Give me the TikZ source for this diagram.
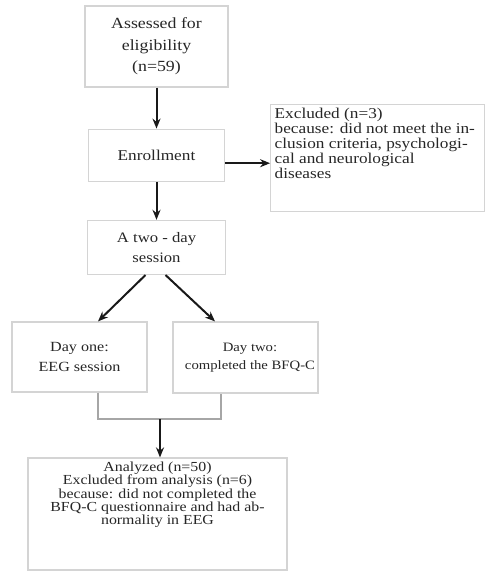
\documentclass[tikz,border=0pt]{standalone}
\usepackage{fontspec}
\setmainfont[FakeStretch=1.15]{Liberation Serif}
\usetikzlibrary{arrows.meta, positioning}

\begin{document}
\begin{tikzpicture}[
  x=1pt, y=-1pt,
  box/.style={rectangle, draw=black!17, line width=1.2pt, text=black!85,
              align=center, inner sep=3pt},
  arrow/.style={-{Stealth[length=10pt, width=8pt]}, line width=2pt, black!90},
  link/.style={draw=black!35, line width=1.5pt}
]
\useasboundingbox (0,0) rectangle (486,573);

% ---- main column ----
\node[box, minimum width=143pt, minimum height=81pt,
      font=\fontsize{15.5}{21.5}\selectfont] (assess) at (156.5,46.5)
  {Assessed for\\eligibility\\(n=59)};
\node[box, minimum width=136pt, minimum height=52pt,
      font=\fontsize{15}{18}\selectfont, below=41pt of assess] (enroll)
  {Enrollment};
\node[box, minimum width=138pt, minimum height=54pt,
      font=\fontsize{14.5}{20}\selectfont, below=38pt of enroll] (twoday)
  {A two - day\\session};

% ---- excluded at enrollment ----
\node[box, minimum width=214pt, minimum height=107pt, inner sep=3pt,
      font=\fontsize{15}{15}\selectfont, right=45pt of enroll, yshift=-2.5pt] (excl)
  {\parbox[c][99pt][t]{206pt}{\raggedright
    Excluded (n=3)\\
    because: did not meet the in-\\
    clusion criteria, psychologi-\\
    cal and neurological\\
    diseases}};

% ---- the two days ----
\node[box, minimum width=135pt, minimum height=70pt,
      font=\fontsize{14}{20}\selectfont] (dayone) at (79.5,357)
  {Day one:\\EEG session};
\node[box, minimum width=145pt, minimum height=71pt,
      font=\fontsize{12.8}{18}\selectfont] (daytwo) at (245.5,357.5)
  {\hspace*{9pt}Day two:\\\hspace*{9pt}completed the BFQ-C};

% ---- analysis ----
\node[box, minimum width=259pt, minimum height=112pt, inner sep=3pt,
      font=\fontsize{13.8}{13.3}\selectfont] (analyzed) at (157.5,514)
  {\parbox[c][104pt][t]{250pt}{\centering
    Analyzed (n=50)\\
    Excluded from analysis (n=6)\\
    because: did not completed the\\
    BFQ-C questionnaire and had ab-\\
    normality in EEG}};

\coordinate (join) at (160,419);

% ---- connectors ----
\draw[arrow] (assess) -- (enroll);
\draw[arrow] ([yshift=-8pt]enroll.east) -- ([yshift=-5.5pt]excl.west);
\draw[arrow] (enroll) -- (twoday);
\draw[arrow] ([xshift=-11pt]twoday.south) -- ([xshift=18.5pt]dayone.north);
\draw[arrow] ([xshift=9pt]twoday.south) -- ([xshift=-30.5pt]daytwo.north);
\draw[link] ([xshift=18.5pt]dayone.south) |- (join) -| ([xshift=-24.5pt]daytwo.south);
\draw[arrow] (join) -- (join |- analyzed.north);

\end{tikzpicture}
\end{document}
